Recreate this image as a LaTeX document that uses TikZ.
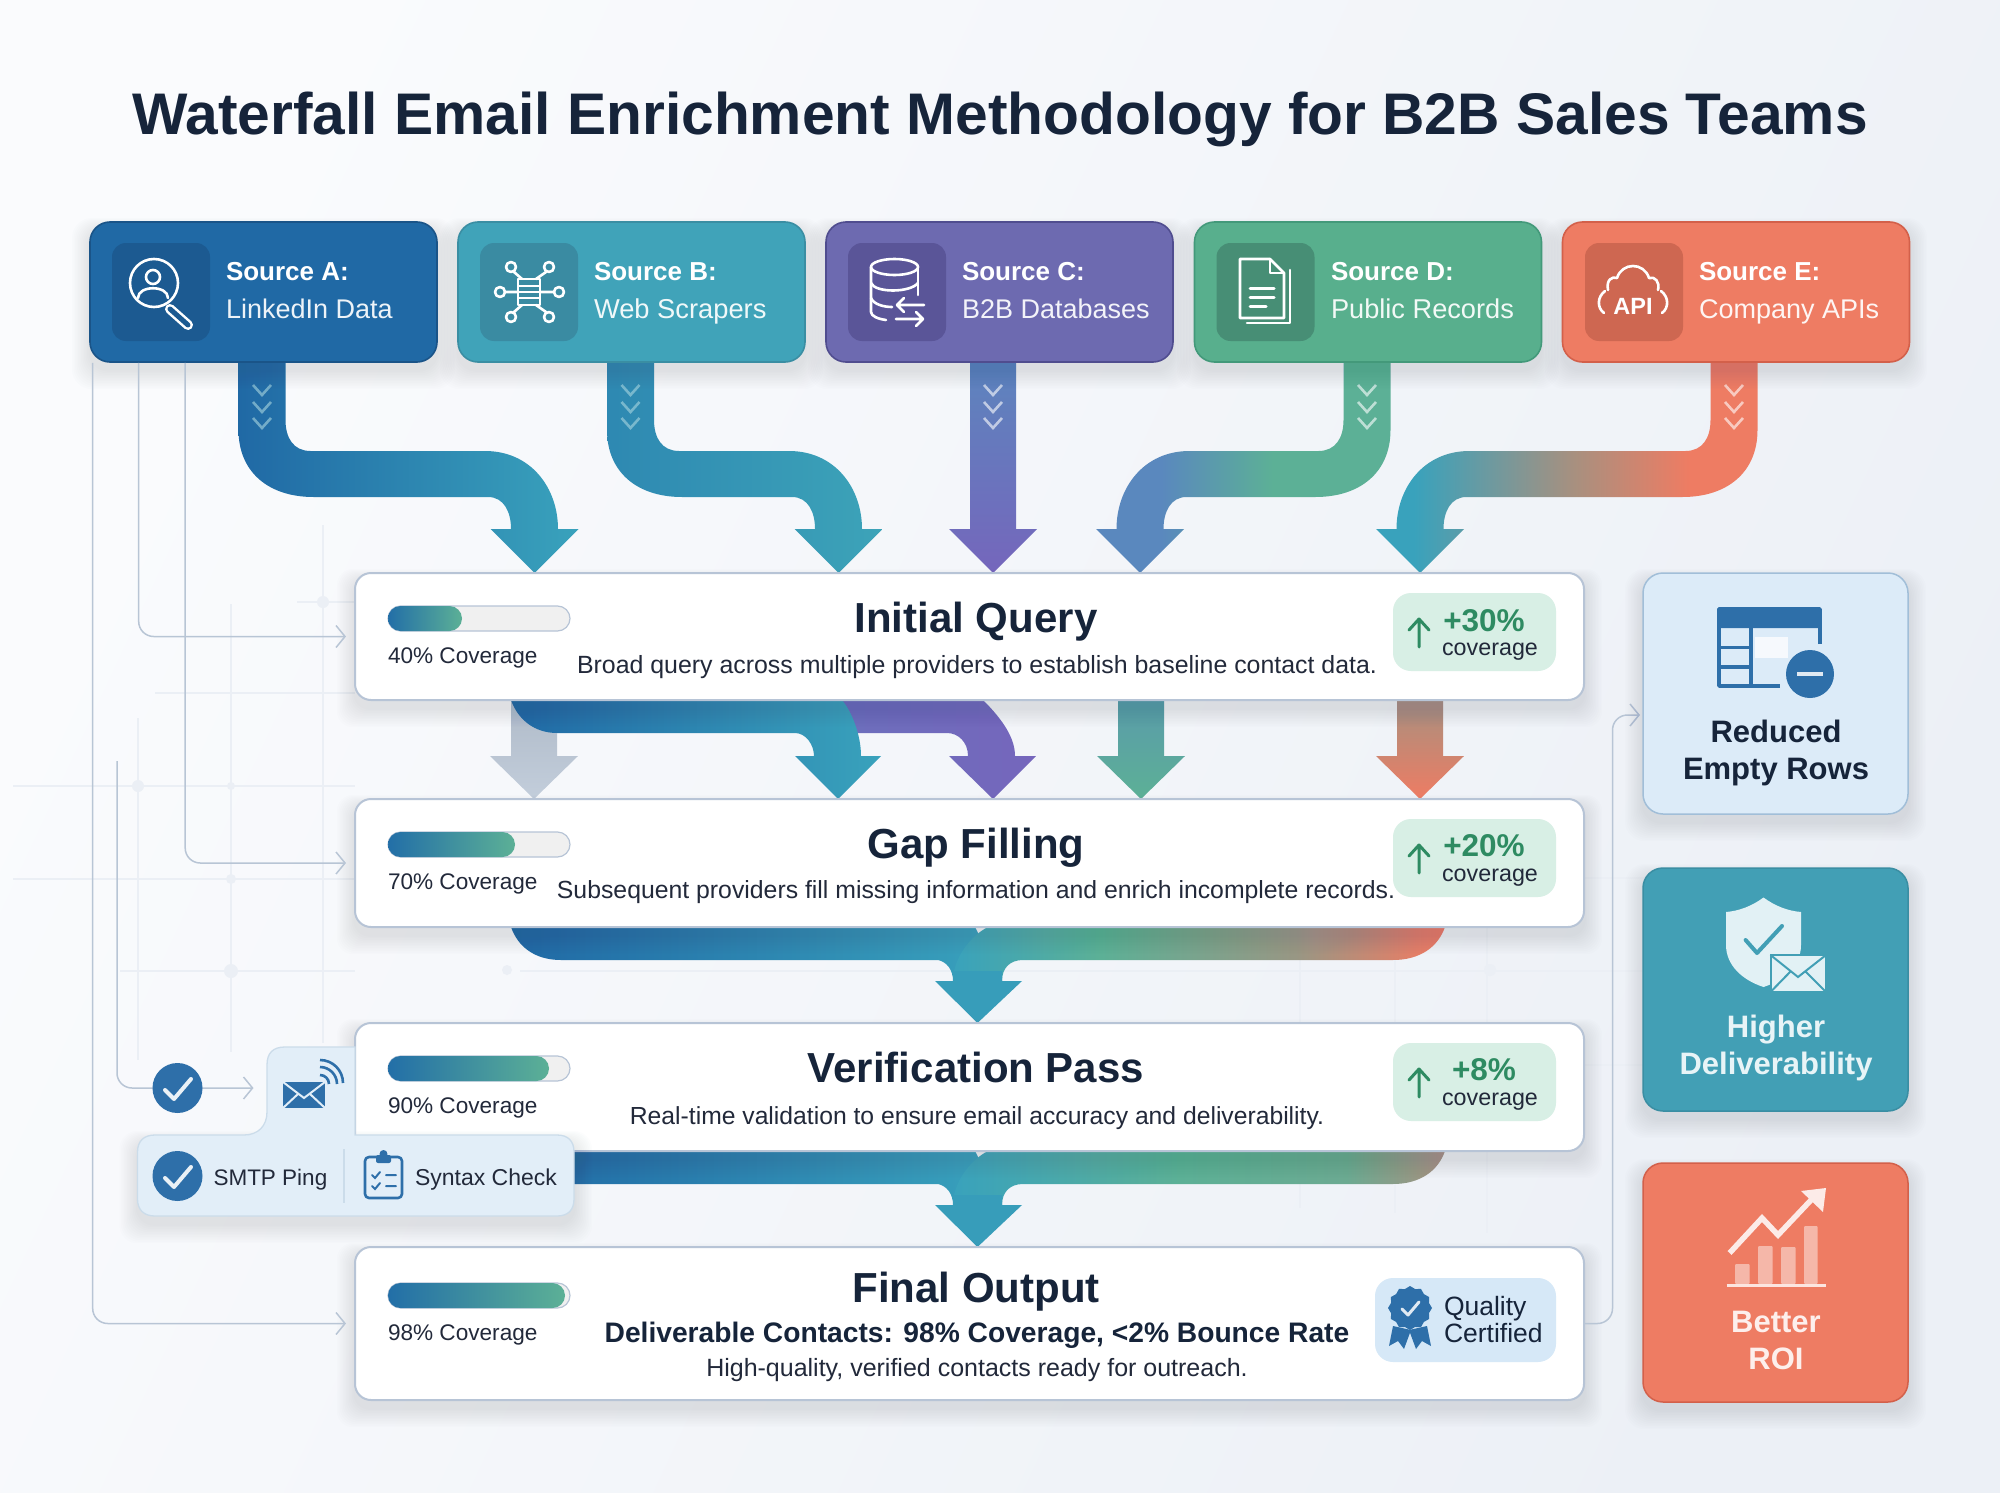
\documentclass[tikz,border=0pt]{standalone}
\usepackage{fontspec}
\setmainfont{Liberation Sans}
\usetikzlibrary{calc,arrows.meta,shapes.geometric}
\definecolor{ink}{HTML}{16243A}
\definecolor{txt}{HTML}{22293A}
\definecolor{cA}{HTML}{2069A5}\definecolor{cAd}{HTML}{1C5A91}\definecolor{cAb}{HTML}{1A5488}
\definecolor{cB}{HTML}{40A3B9}\definecolor{cBd}{HTML}{3A8BA2}\definecolor{cBb}{HTML}{3A8EA3}
\definecolor{cC}{HTML}{6D6AB0}\definecolor{cCd}{HTML}{5A5598}\definecolor{cCb}{HTML}{504D8F}
\definecolor{cD}{HTML}{58AF8D}\definecolor{cDd}{HTML}{478E75}\definecolor{cDb}{HTML}{43997A}
\definecolor{cE}{HTML}{EE7C63}\definecolor{cEd}{HTML}{CE6751}\definecolor{cEb}{HTML}{D3604A}
\definecolor{cS}{HTML}{429FB5}
\definecolor{icoblue}{HTML}{2E6FA9}
\definecolor{conn}{HTML}{B8C5D5}
\definecolor{cardline}{HTML}{B7C4D6}
\definecolor{gridc}{HTML}{EBEFF5}
\definecolor{bglight}{HTML}{FAFBFD}
\definecolor{bgdark}{HTML}{ECF0F6}
\definecolor{shc}{HTML}{4F6280}
\definecolor{green1}{HTML}{2E8B62}
\definecolor{badge}{HTML}{D8EFE5}
\definecolor{badgeb}{HTML}{D6E8F7}
\definecolor{panelc}{HTML}{E2EEF8}
\definecolor{panelb}{HTML}{CBDCEA}
\definecolor{fTeal}{HTML}{39A2BC}
\definecolor{fGreen}{HTML}{5CB096}
\definecolor{fBrown}{HTML}{A8907F}
\definecolor{fBlueL}{HTML}{5A88BE}
\definecolor{fPurple}{HTML}{7566BC}
\definecolor{fOrange}{HTML}{EE7C63}
\pgfdeclarehorizontalshading{sE}{100bp}{color(0bp)=(fTeal);color(25bp)=(fTeal);color(30bp)=(fTeal);color(51bp)=(fBrown);color(66bp)=(fOrange);color(75bp)=(fOrange);color(100bp)=(fOrange)}
\pgfdeclarehorizontalshading{sD}{100bp}{color(0bp)=(fBlueL);color(25bp)=(fBlueL);color(36bp)=(fBlueL);color(55bp)=(fGreen);color(75bp)=(fGreen);color(100bp)=(fGreen)}
\colorlet{fMid}{fBrown!80!fGreen}
\colorlet{fEnd}{fOrange!85!fBrown}
\colorlet{fGB}{fGreen!80!fBrown}
\pgfdeclarehorizontalshading{sMerge}{100bp}{color(0bp)=(fTeal);color(25bp)=(fTeal);color(40bp)=(fGreen);color(60bp)=(fMid);color(72bp)=(fEnd);color(75bp)=(fOrange);color(100bp)=(fOrange)}
\pgfdeclarehorizontalshading{sMergeB}{100bp}{color(0bp)=(fTeal);color(25bp)=(fTeal);color(48bp)=(fGreen);color(65bp)=(fGB);color(75bp)=(fBrown);color(100bp)=(fBrown)}
\tikzset{
 srcbox/.style={draw=#1b,fill=#1,line width=1.6pt,rounded corners=20pt,minimum width=347pt,minimum height=140pt,inner sep=0pt},
 cardbox/.style={draw=cardline,fill=white,line width=2pt,rounded corners=16pt,inner sep=0pt,minimum width=1229pt},
 badgebox/.style={fill=badge,rounded corners=18pt,inner sep=0pt,minimum width=163pt,minimum height=78pt},
 sidebox/.style={rounded corners=20pt,inner sep=0pt,minimum width=265pt,line width=1.5pt},
 thinline/.style={draw=conn,line width=1.5pt,rounded corners=15pt},
 thinarrow/.style={thinline,-{Straight Barb[length=9pt,width=22pt,line width=1.5pt]},shorten >=8pt},
 wico/.style={draw=white,line width=2.6pt,line cap=round,line join=round},
 bico/.style={draw=icoblue,line width=2.6pt,line cap=round,line join=round},
 lbl/.style={inner sep=0pt,outer sep=0pt},
}
\newcommand{\lab}[7]{\node[lbl,anchor=#2,text=#6] (#1) at (#3,#4) {\fontsize{#5}{#5}\selectfont #7};}
\newcommand{\softsh}[6]{\foreach \kk in {1,...,12}{\fill[#6,opacity=.010,rounded corners=#5pt] (#1-\kk*1.5,#2-\kk*1+8) rectangle (#3+\kk*1.5,#4+\kk*1.6+8);}}
\newcommand{\chev}[2]{\foreach \yy in {385,402,418}{\draw[#2,line width=2.6pt,opacity=.6] (#1-9,\yy) -- (#1,\yy+10) -- (#1+9,\yy);}}
\newcommand{\bend}[4]{%
 \pgfmathsetmacro{\xs}{#1}\pgfmathsetmacro{\xt}{#2}\pgfmathsetmacro{\s}{#3}%
 \pgfmathsetmacro{\ha}{\xs-\s*23.5}\pgfmathsetmacro{\hb}{\xs+\s*23.5}%
 \pgfmathsetmacro{\oa}{\ha+\s*30}\pgfmathsetmacro{\ob}{\ha+\s*75}%
 \pgfmathsetmacro{\ia}{\hb+\s*8}\pgfmathsetmacro{\ib}{\hb+\s*25}%
 \pgfmathsetmacro{\ta}{\xt-\s*23.5}\pgfmathsetmacro{\tb}{\xt+\s*23.5}%
 \pgfmathsetmacro{\tc}{\ta-\s*23}\pgfmathsetmacro{\td}{\ta-\s*7}%
 \pgfmathsetmacro{\te}{\tb-\s*27}\pgfmathsetmacro{\tf}{\tb-\s*73}%
 \pgfmathsetmacro{\Ha}{\xt-\s*44}\pgfmathsetmacro{\Hb}{\xt+\s*44}%
 \path[#4] (\ha,362) -- (\ha,430) .. controls (\ha,472) and (\oa,497) .. (\ob,497)
  -- (\tc,497) .. controls (\td,497) and (\ta,512) .. (\ta,529)
  -- (\Ha,529) -- (\xt,573) -- (\Hb,529) -- (\tb,529)
  .. controls (\tb,488) and (\te,451) .. (\tf,451)
  -- (\ib,451) .. controls (\ia,451) and (\hb,438) .. (\hb,420) -- (\hb,362) -- cycle;
}
\newcommand{\straight}[5]{\path[#5] (#1-23,#2) -- (#1-23,#3) -- (#1-44,#3) -- (#1,#4) -- (#1+44,#3) -- (#1+23,#3) -- (#1+23,#2) -- cycle;}
\newcommand{\merge}[2]{%
 \pgfmathsetmacro{\ya}{#1}\pgfmathsetmacro{\yb}{#1+33}\pgfmathsetmacro{\yc}{#1+54}\pgfmathsetmacro{\yd}{#1+96}%
 \path[left color=cA,right color=fTeal] (511,\ya) .. controls (518,\ya+20) and (535,\yb) .. (561,\yb) -- (938,\yb) .. controls (947,\yb+2) and (953,\yb+10) .. (953,\yc) -- (1002,\yc) -- (975,\ya) -- cycle;
 \path[shading=#2] (988,\ya) .. controls (972,\ya+8) and (953,\ya+30) .. (953,\yc) -- (1002,\yc) .. controls (1002,\yb+8) and (1010,\yb) .. (1023,\yb) -- (1393,\yb) .. controls (1420,\yb) and (1438,\ya+20) .. (1445,\ya) -- cycle;
 \fill[fTeal!92!cA] (953,\yc-10) -- (1002,\yc-10) -- (1002,\yc) -- (1022,\yc) -- (977.5,\yd) -- (935,\yc) -- (953,\yc) -- cycle;
}
\newcommand{\progress}[2]{%
 \draw[draw=cardline,line width=1.2pt,fill=gray!12!white,rounded corners=12.5pt] (388,#1) rectangle (570,#1+25);
 \path[left color=cA!90!fTeal,right color=fGreen,rounded corners=12.5pt] (388,#1) rectangle (#2,#1+25);
}
\newcommand{\upg}[1]{\draw[green1,line width=3pt,line cap=round,line join=round] (1419,#1+28) -- (1419,#1) (1409,#1+11) -- (1419,#1) -- (1429,#1+11);}
\begin{document}
\begin{tikzpicture}[x=1pt,y=-1pt]
\useasboundingbox (0,0) rectangle (2000,1493);
% background
\shade[top color=bglight,bottom color=bgdark,shading angle=65] (0,0) rectangle (2000,1493);
% faint grid
\draw[gridc,line width=1.2pt]
 (138,718) -- (138,1060) (231,604) -- (231,1052) (323,525) -- (323,1043)
 (297,602) -- (355,602) (155,693) -- (355,693) (13,786) -- (355,786) (13,879) -- (355,879) (120,971) -- (355,971)
 (1300,927) -- (1300,1023) (1395,927) -- (1395,1023) (1487,927) -- (1487,1023)
 (1300,1151) -- (1300,1208) (1395,1151) -- (1395,1213) (1487,1151) -- (1487,1233)
 (520,971) -- (1584,971) (1584,878) -- (1650,878) (1584,971) -- (1650,971) (1584,1065) -- (1650,1065);
\foreach \dx/\dy/\dr in {323/602/6,138/786/6,231/786/4,231/879/5,231/971/7,507/970/5,1490/970/6}{\fill[gridc] (\dx,\dy) circle (\dr);}
\coordinate (mailin) at (253.5,1088);
\coordinate (vstart) at (117,761);
\coordinate (rr1) at (1612.5,715);
\coordinate (rr2) at (1640,715);
% title
\lab{title}{base}{1000}{135}{58.7}{ink}{\bfseries Waterfall Email Enrichment Methodology for B2B Sales Teams}
% source flows
\bend{262}{534.5}{1}{left color=cA,right color=fTeal}
\bend{630.5}{838.5}{1}{left color=cA!45!fTeal,right color=fTeal!90!fGreen}
\straight{993}{362}{529}{573}{top color=fBlueL!90!fPurple,bottom color=fPurple}
\bend{1367}{1140}{-1}{shading=sD}
\bend{1734}{1420}{-1}{shading=sE}
\chev{262}{white!55!cB}
\chev{630.5}{white!55!cB}
\chev{993}{white}
\chev{1367}{white}
\chev{1734}{white}
% inter-card flows 1-2
\straight{534}{700}{756}{799}{top color=conn!85!gray,bottom color=conn!85!white}
\path[left color=fPurple!85!fTeal,right color=fPurple] (830,700) -- (983,700) .. controls (1003,720) and (1015,738) .. (1015,756) -- (1036,756) -- (993,799) -- (949,756) -- (968,756) .. controls (968,742) and (958,733) .. (947,733) -- (850,733) -- cycle;
\path[left color=cA,right color=fTeal] (511,700) .. controls (518,720) and (535,733) .. (557,733) -- (795,733) .. controls (806,733) and (814,745) .. (814,756) -- (795,756) -- (838,799) -- (881,756) -- (861,756) .. controls (861,735) and (852,712) .. (842,700) -- cycle;
\straight{1141}{700}{756}{799}{top color=fBlueL!50!fGreen,bottom color=fGreen}
\straight{1420}{700}{756}{799}{top color=fBrown,bottom color=fOrange}
% merges
\merge{927}{sMerge}
\merge{1151}{sMergeB}
% source boxes
\softsh{90}{222}{437}{362}{20}{shc}
\softsh{458}{222}{805}{362}{20}{shc}
\softsh{826}{222}{1173}{362}{20}{shc}
\softsh{1195}{222}{1541}{362}{20}{shc}
\softsh{1563}{222}{1909}{362}{20}{shc}
\node[srcbox=cA] (srcA) at (263.5,292) {};
\node[srcbox=cB] (srcB) at (631.5,292) {};
\node[srcbox=cC] (srcC) at (999.5,292) {};
\node[srcbox=cD] (srcD) at (1368,292) {};
\node[srcbox=cE] (srcE) at (1736,292) {};
\foreach \nn/\xx/\cc in {A/161/cAd,B/529/cBd,C/897/cCd,D/1265.5/cDd,E/1634/cEd}{
 \node[fill=\cc,rounded corners=14pt,minimum width=98pt,minimum height=98pt,inner sep=0pt] (ico\nn) at (\xx,292) {};}
\lab{sa1}{base west}{226}{280}{26}{white}{\bfseries Source A:}
\lab{sa2}{base west}{226}{318}{27}{white!92!cA}{LinkedIn Data}
\lab{sb1}{base west}{594}{280}{26}{white}{\bfseries Source B:}
\lab{sb2}{base west}{594}{318}{27.3}{white!92!cB}{Web Scrapers}
\lab{sc1}{base west}{962}{280}{26}{white}{\bfseries Source C:}
\lab{sc2}{base west}{962}{318}{27}{white!92!cC}{B2B Databases}
\lab{sd1}{base west}{1331}{280}{26}{white}{\bfseries Source D:}
\lab{sd2}{base west}{1331}{318}{27.2}{white!92!cD}{Public Records}
\lab{se1}{base west}{1699}{280}{26}{white}{\bfseries Source E:}
\lab{se2}{base west}{1699}{318}{27}{white!92!cE}{Company APIs}
% icon A
\draw[wico] (154,283) circle (24);
\draw[wico] (153,277) circle (7);
\draw[wico] (138,298) .. controls (138,285) and (168,285) .. (168,298);
\draw[white,line width=10pt,line cap=round] (170,309) -- (188,325);
\draw[cAd,line width=5pt,line cap=round] (170,309) -- (188,325);
% icon B
\draw[wico] (518,279) rectangle (540,305);
\foreach \yy in {286,292,298}{\draw[white,line width=2pt] (518,\yy) -- (540,\yy);}
\draw[wico] (514,272) -- (522,279) (546,272) -- (536,279) (505,292) -- (518,292) (554,292) -- (540,292) (514,312) -- (522,305) (546,312) -- (536,305);
\foreach \a/\b in {511/267,549/267,500/292,559/292,511/317,549/317}{\draw[wico] (\a,\b) circle (5);}
% icon C
\draw[wico] (894.5,267) ellipse (23.5 and 8);
\draw[wico] (871,267) -- (871,312) .. controls (871,316) and (878,319) .. (886,320);
\draw[wico] (918,267) -- (918,295);
\draw[wico] (871,283) .. controls (875,293) and (910,293) .. (918,283);
\draw[wico] (871,298) .. controls (874,305) and (885,307) .. (892,307);
\draw[wico] (924,305) -- (897,305) (904,298) -- (897,305) -- (904,312);
\draw[wico] (896,319) -- (923,319) (916,312) -- (923,319) -- (916,326);
% icon D
\draw[wico] (1240,259) -- (1270,259) -- (1284,273) -- (1284,318) -- (1240,318) -- cycle;
\draw[wico] (1270,259) -- (1270,273) -- (1284,273);
\draw[wico] (1290,270) -- (1290,323) -- (1247,323);
\draw[wico,line width=3pt] (1250,288) -- (1274,288) (1250,297) -- (1274,297) (1250,306) -- (1266,306);
% icon E
\draw[wico] (1608,290) .. controls (1606,280) and (1612,276) .. (1617,278) .. controls (1622,262) and (1644,262) .. (1649,278) .. controls (1655,276) and (1660,282) .. (1658,290);
\lab{api}{base}{1633}{314}{23.5}{white}{\bfseries API}
\draw[wico] (1605,291) .. controls (1597,297) and (1597,308) .. (1604,313);
\draw[wico] (1661,291) .. controls (1669,297) and (1669,308) .. (1662,313);
% cards
\softsh{355}{573}{1584}{700}{16}{shc}
\softsh{355}{799}{1584}{927}{16}{shc}
\softsh{355}{1023}{1584}{1151}{16}{shc}
\softsh{355}{1247}{1584}{1400}{16}{shc}
\node[cardbox,minimum height=127pt] (c1) at (969.5,636.5) {};
\node[cardbox,minimum height=128pt] (c2) at (969.5,863) {};
\node[cardbox,minimum height=128pt] (c3) at (969.5,1087) {};
\node[cardbox,minimum height=153pt] (c4) at (969.5,1323.5) {};
% thin connectors
\draw[thinarrow] ($(srcA.south west)+(3.5,0)$) |- (c4.west);
\draw[thinarrow] ($(srcA.south west)+(49.5,0)$) |- (c1.west);
\draw[thinarrow] ($(srcA.south west)+(96,0)$) |- (c2.west);
\draw[thinline,-{Straight Barb[length=9pt,width=22pt,line width=1.5pt]}] (vstart) |- (mailin);
\draw[thinline,-{Straight Barb[length=9pt,width=22pt,line width=1.5pt]}] (c4.east) -| (rr1) -- (rr2);
% progress
\progress{606}{462}
\progress{832}{515}
\progress{1056}{549}
\progress{1283}{565}
\lab{cv1}{base west}{388}{663}{22.6}{txt}{40\% Coverage}
\lab{cv2}{base west}{388}{889}{22.6}{txt}{70\% Coverage}
\lab{cv3}{base west}{388}{1113}{22.6}{txt}{90\% Coverage}
\lab{cv4}{base west}{388}{1340}{22.6}{txt}{98\% Coverage}
% titles
\lab{t1}{base}{976}{632}{42}{ink}{\bfseries Initial Query}
\lab{t2}{base}{976}{858}{42}{ink}{\bfseries Gap Filling}
\lab{t3}{base}{976}{1082}{42}{ink}{\bfseries Verification Pass}
\lab{t4}{base}{976}{1302}{42}{ink}{\bfseries Final Output}
\lab{d1}{base}{977}{673}{24.9}{txt}{Broad query across multiple providers to establish baseline contact data.}
\lab{d2}{base}{976}{898}{24.8}{txt}{Subsequent providers fill missing information and enrich incomplete records.}
\lab{d3}{base}{977}{1124}{24.7}{txt}{Real-time validation to ensure email accuracy and deliverability.}
\lab{d4}{base}{977}{1342}{28.2}{ink}{\bfseries Deliverable Contacts: 98\% Coverage, <2\% Bounce Rate}
\lab{d5}{base}{977}{1376}{25}{txt}{High-quality, verified contacts ready for outreach.}
% badges
\node[badgebox] (b1) at (1474.5,632) {};
\node[badgebox] (b2) at (1474.5,858) {};
\node[badgebox] (b3) at (1474.5,1082) {};
\node[badgebox,fill=badgeb,minimum width=181pt,minimum height=84pt] (b4) at (1465.5,1320) {};
\upg{619} \upg{845} \upg{1069}
\lab{p1}{base}{1484}{631}{31.5}{green1}{\bfseries +30\%}
\lab{p2}{base}{1484}{856}{31.5}{green1}{\bfseries +20\%}
\lab{p3}{base}{1484}{1080}{31.5}{green1}{\bfseries +8\%}
\lab{g1}{base}{1490}{655}{23.3}{txt}{coverage}
\lab{g2}{base}{1490}{881}{23.3}{txt}{coverage}
\lab{g3}{base}{1490}{1105}{23.3}{txt}{coverage}
\lab{q1}{base west}{1444}{1315}{26.5}{ink}{Quality}
\lab{q2}{base west}{1444}{1342}{26.5}{ink}{Certified}
% rosette
\fill[icoblue] (1393,1326) -- (1389,1346) -- (1398,1341) -- (1404,1349) -- (1411,1330) -- cycle;
\fill[icoblue] (1427,1326) -- (1431,1346) -- (1422,1341) -- (1416,1349) -- (1409,1330) -- cycle;
\node[star,star points=12,star point ratio=1.12,fill=icoblue,minimum size=44pt,inner sep=0pt] (ros) at (1410,1308) {};
\draw[white!85!icoblue,line width=3pt,line cap=round,line join=round] (1402,1309) -- (1408,1315) -- (1419,1302);
% SMTP panel
\softsh{137.5}{1135}{574}{1216}{18}{shc}
\path[fill=panelc,draw=panelb,line width=1.3pt] (355,1047) -- (285,1047) .. controls (273,1047) and (267,1053) .. (267,1065) -- (267,1112) .. controls (267,1126) and (258,1135) .. (244,1135) -- (155,1135) .. controls (144,1135) and (137.5,1141) .. (137.5,1152) -- (137.5,1199) .. controls (137.5,1210) and (144,1216) .. (155,1216) -- (557,1216) .. controls (568,1216) and (574,1210) .. (574,1199) -- (574,1152) .. controls (574,1141) and (568,1135) .. (557,1135) -- (355,1135) -- cycle;
\draw[panelb,line width=1.5pt] (344,1149) -- (344,1203);
\node[circle,fill=icoblue,minimum size=50pt,inner sep=0pt] (chk1) at (177.5,1088) {};
\node[circle,fill=icoblue,minimum size=50pt,inner sep=0pt] (chk2) at (177.5,1176) {};
\draw[white!90!icoblue,line width=4pt,line cap=round,line join=round] (165,1090) -- (174,1099) -- (191,1079);
\draw[white!90!icoblue,line width=4pt,line cap=round,line join=round] (165,1178) -- (174,1187) -- (191,1167);
\lab{smtp}{base west}{213.5}{1185}{22.5}{txt}{SMTP Ping}
\lab{syn}{base west}{415}{1185}{23}{txt}{Syntax Check}
% mail icon
\fill[icoblue] (283,1082) rectangle (325,1108);
\draw[panelc,line width=2pt] (283,1082) -- (304,1098) -- (325,1082) (283,1108) -- (298,1094) (325,1108) -- (310,1094);
\draw[icoblue,line width=2.6pt] (320,1075) arc (-90:0:9);
\draw[icoblue,line width=2.6pt] (320,1067) arc (-90:0:17);
\draw[icoblue,line width=2.6pt] (320,1060) arc (-90:0:23);
% clipboard
\draw[bico,rounded corners=4pt] (365,1157) rectangle (402,1198);
\fill[icoblue,rounded corners=2pt] (376,1155) rectangle (391,1163);
\fill[icoblue] (383.5,1154) circle (4);
\draw[icoblue,line width=2pt,line cap=round] (372,1175) -- (375,1178) -- (380,1172) (372,1186) -- (375,1189) -- (380,1183) (386,1175) -- (396,1175) (386,1186) -- (396,1186);
% side boxes
\softsh{1643}{573}{1908}{814}{20}{shc}
\softsh{1643}{868}{1908}{1111}{20}{shc}
\softsh{1643}{1163}{1908}{1402}{20}{shc}
\node[sidebox,draw=white!55!icoblue,fill=badgeb!85!white,minimum height=241pt] (s1) at (1775.5,693.5) {};
\node[sidebox,draw=cBb,fill=cS,minimum height=243pt] (s2) at (1775.5,989.5) {};
\node[sidebox,draw=cEb,fill=cE,minimum height=239pt] (s3) at (1775.5,1282.5) {};
\lab{r1}{base}{1776}{742}{31}{ink}{\bfseries Reduced}
\lab{r2}{base}{1776}{779}{31}{ink}{\bfseries Empty Rows}
\lab{h1}{base}{1776}{1037}{31}{white!88!cB}{\bfseries Higher}
\lab{h2}{base}{1776}{1074}{31}{white!88!cB}{\bfseries Deliverability}
\lab{o1}{base}{1776}{1332}{31}{white!88!cE}{\bfseries Better}
\lab{o2}{base}{1776}{1369}{31}{white!88!cE}{\bfseries ROI}
% table icon
\draw[icoblue,line width=3.5pt,line join=round] (1820,644) -- (1820,609) -- (1719,609) -- (1719,686) -- (1780,686);
\fill[icoblue,rounded corners=3pt] (1718,607.5) rectangle (1821,628);
\draw[icoblue,line width=3.5pt] (1751,626) -- (1751,686) (1719,647.5) -- (1751,647.5) (1719,667) -- (1751,667);
\fill[white,opacity=.75] (1755,637) rectangle (1788,658);
\node[circle,fill=icoblue,minimum size=48pt,inner sep=0pt] (minus) at (1810,674) {};
\draw[white!85!icoblue,line width=4pt] (1797,674) -- (1823,674);
% shield icon
\fill[white!85!cB] (1763.5,897.5) .. controls (1775,906) and (1788,911) .. (1801,912) -- (1801,945) .. controls (1801,965) and (1785,980) .. (1763.5,987) .. controls (1742,980) and (1726,965) .. (1726,945) -- (1726,912) .. controls (1739,911) and (1752,906) .. (1763.5,897.5) -- cycle;
\draw[cS,line width=4pt,line cap=round,line join=round] (1745.6,940) -- (1757,953) -- (1782,926);
\fill[white!85!cB,draw=cS,line width=2pt] (1770.5,955) rectangle (1826,992);
\draw[cS,line width=2pt] (1770.5,955) -- (1798,977) -- (1826,955) (1770.5,992) -- (1790,972) (1826,992) -- (1806,972);
% ROI icon
\draw[white!80!cE,line width=3pt] (1726.5,1285) -- (1826,1285);
\foreach \xa/\xb/\yt in {1735/1749.5/1264,1758/1772.5/1246,1781/1795.5/1247,1804/1817.5/1226}{\fill[white,opacity=.45,rounded corners=1pt] (\xa,\yt) rectangle (\xb,1284);}
\draw[white!85!cE,line width=5.5pt,line join=miter] (1729.6,1253) -- (1762,1218) -- (1778,1235) -- (1812,1199);
\fill[white!85!cE] (1826,1188) -- (1801,1191) -- (1823,1212) -- cycle;
\end{tikzpicture}
\end{document}
